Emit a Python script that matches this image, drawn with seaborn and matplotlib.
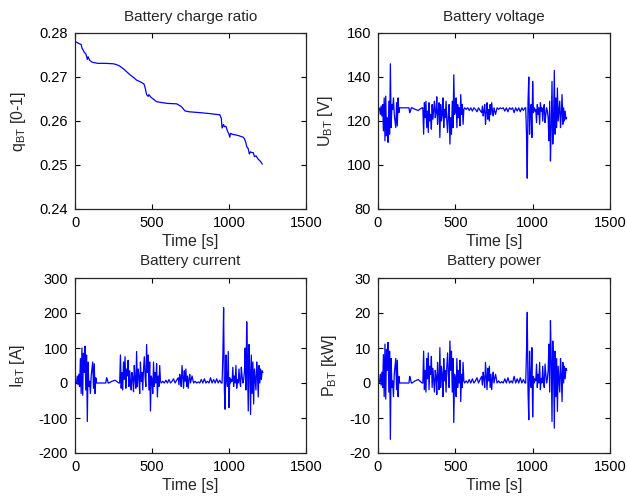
import matplotlib
matplotlib.use("Agg")
import matplotlib.pyplot as plt
import seaborn as sns
import pandas as pd

# ---------------- data ----------------
# Battery charge ratio
t_q = [0, 10, 25, 40, 45, 55, 60, 70, 80, 85, 95, 110, 119, 150, 200, 250, 270, 290, 320, 357,
       380, 400, 430, 448, 455, 465, 475, 480, 490, 500, 530, 560, 600, 660, 690, 714, 740, 811,
       870, 941, 950, 955, 965, 970, 980, 990, 1000, 1005, 1010, 1020, 1060, 1093, 1100, 1110,
       1115, 1125, 1132, 1140, 1150, 1158, 1165, 1175, 1190, 1205, 1216]
q_bt = [0.2781, 0.2779, 0.2776, 0.2774, 0.2766, 0.2760, 0.2756, 0.2753, 0.2740, 0.2746, 0.2738,
        0.2734, 0.2733, 0.2731, 0.2731, 0.2730, 0.2728, 0.2725, 0.2717, 0.2705, 0.2699, 0.2693,
        0.2688, 0.2684, 0.2676, 0.2660, 0.2656, 0.2660, 0.2655, 0.2652, 0.2644, 0.2642, 0.2640,
        0.2639, 0.2633, 0.2623, 0.2621, 0.2619, 0.2617, 0.2614, 0.2606, 0.2584, 0.2592, 0.2587,
        0.2588, 0.2577, 0.2570, 0.2563, 0.2572, 0.2570, 0.2567, 0.2563, 0.2560, 0.2550, 0.2542,
        0.2537, 0.2525, 0.2530, 0.2528, 0.2528, 0.2519, 0.2521, 0.2513, 0.2508, 0.2502]

# Sample times for voltage / current / power
time_s = ([*range(0, 145, 5)]
          + [150, 180, 200, 205, 210, 215, 220, 240, 260, 275, 285]
          + [*range(290, 565, 5)]
          + [*range(570, 670, 10)] + [*range(670, 755, 5)] + [*range(760, 960, 10)]
          + [*range(955, 1225, 5)])

current_A = [
    # 0-140
    0, 0, 2, 20, -5, 25, -10, 70, -30, 100, -35, 85, 30, 105, -20, 80, -110, 60, -10, 5,
    -30, 20, 40, 60, -15, 55, -30, 15, 0,
    # 150-285
    0, 0, 0, 15, 10, 0, 0, 5, 8, 3, 0,
    # 290-560
    0, 80, -15, 30, -20, 60, 10, 75, -15, 40, 20, 65, -10, 35, 5, -20, 30, 15, -25, 50,
    10, -15, 90, -10, 40, 20, -30, 60, 5, 30, -20, 40, 75, 20, -10, 110, 30, 80, -20, 60,
    -80, 20, 10, -30, 60, -10, 30, 0, 55, -40, 20, -10, 50, 5, 0,
    # 570-950
    5, 0, 8, 0, 10, 0, 5, 12, 0, 8,
    15, -5, 25, 10, -10, 50, 15, -15, 35, 5, 40, -10, 20, -15, 10, 25, 0,
    20, 0, 5, 0, 3, 0, 10, 0, 12, 0, 5, 0, 15, 0, 10, 0, 12, 0, 8, 0,
    # 955-1220
    0, 75, 215, -20, -75, 80, 10, -10, 90, -70, 15, 0, 10, 5, 45, -10, 20, 0, 50, -15,
    10, 0, 40, 5, -10, 45, 20, 0, 10,
    30, 100, -20, 175, 60, -80, 110, 40, -90, 80, -30, 60, -60, 40, 10, -20, 60, 20, -40, 50,
    0, 40, 10, 35, 30]

voltage_V = [
    126, 126, 125.7, 123, 126.8, 122.3, 127.5, 115.5, 130.5, 111, 131.3, 113.3, 121.5, 110.3,
    129, 114, 146, 117, 127.5, 125.3, 130.5, 123, 120, 117, 128.3, 117.8, 130.5, 123.8, 126,
    126, 126, 126, 123.8, 124.5, 126, 126, 125.3, 124.8, 125.6, 126,
    126, 114, 128.3, 121.5, 129, 117, 124.5, 114.8, 128.3, 120, 123, 116.3, 127.5, 120.8, 125.3,
    129, 121.5, 123.8, 131, 118.5, 124.5, 128.3, 112.5, 127.5, 120, 123, 130.5, 117, 125.3,
    121.5, 129, 120, 114.8, 123, 127.5, 109.5, 121.5, 114, 129, 117, 141, 123, 124.5, 130.5,
    117, 127.5, 121.5, 126, 117.8, 132, 123, 127.5, 118.5, 125.3, 126,
    125.3, 126, 124.8, 126, 124.5, 126, 125.3, 124.2, 126, 124.8,
    123.8, 126.8, 122.3, 124.5, 127.5, 118.5, 123.8, 128.3, 120.8, 125.3, 120, 127.5, 123,
    128.3, 124.5, 122.3, 126,
    123, 126, 125.3, 126, 125.6, 126, 124.5, 126, 124.2, 126, 125.3, 126, 123.8, 126, 124.5,
    126, 124.2, 126, 124.8, 126,
    126, 114.8, 94, 129, 140, 114, 124.5, 127.5, 112.5, 138, 123.8, 126, 124.5, 125.3, 119.3,
    127.5, 123, 126, 118.5, 128.3, 124.5, 126, 120, 125.3, 127.5, 119.3, 123, 126, 124.5,
    121.5, 111, 129, 101.8, 117, 138, 109.5, 120, 143, 114, 130.5, 117, 135, 120, 124.5,
    129, 117, 123, 132, 118.5, 126, 120, 124.5, 120.8, 121.5]

power_kW = [
    0, 0, 0.3, 2.5, -0.6, 3.1, -1.3, 8.1, -3.9, 11.1, -4.6, 9.6, 3.6, 11.6, -2.6, 9.1, -16.1,
    7.0, -1.3, 0.6, -3.9, 2.5, 4.8, 7.0, -1.9, 6.5, -3.9, 1.9, 0,
    0, 0, 0, 1.9, 1.2, 0, 0, 0.6, 1.0, 0.4, 0,
    0, 9.1, -1.9, 3.6, -2.6, 7.0, 1.2, 8.6, -1.9, 4.8, 2.5, 7.6, -1.3, 4.2, 0.6, -2.6, 3.6,
    1.9, -3.3, 5.9, 1.2, -1.9, 10.1, -1.3, 4.8, 2.5, -3.9, 7.0, 0.6, 3.6, -2.6, 4.8, 8.6, 2.5,
    -1.3, 12.0, 3.6, 9.1, -2.6, 7.0, -11.3, 2.5, 1.2, -3.9, 7.0, -1.3, 3.6, 0, 6.5, -5.3, 2.5,
    -1.3, 5.9, 0.6, 0,
    0.6, 0, 1.0, 0, 1.2, 0, 0.6, 1.5, 0, 1.0,
    1.9, -0.6, 3.1, 1.2, -1.3, 5.9, 1.9, -1.9, 4.2, 0.6, 4.8, -1.3, 2.5, -1.9, 1.2, 3.1, 0,
    2.5, 0, 0.6, 0, 0.4, 0, 1.2, 0, 1.5, 0, 0.6, 0, 1.9, 0, 1.2, 0, 1.5, 0, 1.0, 0,
    0, 8.6, 20.2, -2.6, -10.5, 9.1, 1.2, -1.3, 10.1, -9.7, 1.9, 0, 1.2, 0.6, 5.4, -1.3, 2.5,
    0, 5.9, -1.9, 1.2, 0, 4.8, 0.6, -1.3, 5.4, 2.5, 0, 1.2,
    3.6, 11.1, -2.6, 17.8, 7.0, -11.0, 12.0, 4.8, -12.9, 9.1, -3.9, 7.0, -8.1, 4.8, 1.2,
    -2.6, 7.0, 2.5, -5.3, 5.9, 0, 4.8, 1.2, 4.2, 3.6]

titles = ["Battery charge ratio", "Battery voltage", "Battery current", "Battery power"]
ylabels = [r"q$_{\mathrm{BT}}$ [0-1]", r"U$_{\mathrm{BT}}$ [V]",
           r"I$_{\mathrm{BT}}$ [A]", r"P$_{\mathrm{BT}}$ [kW]"]
xlabel = "Time [s]"
xticks = [0, 500, 1000, 1500]
yticks = [[0.24, 0.25, 0.26, 0.27, 0.28], [80, 100, 120, 140, 160],
          [-200, -100, 0, 100, 200, 300], [-20, -10, 0, 10, 20, 30]]
yticklabels = [["0.24", "0.25", "0.26", "0.27", "0.28"], ["80", "100", "120", "140", "160"],
               ["-200", "-100", "0", "100", "200", "300"], ["-20", "-10", "0", "10", "20", "30"]]

# ---------------- styling ----------------
sns.set_style("ticks")
plt.rcParams["font.family"] = ["Liberation Sans", "DejaVu Sans"]
plt.rcParams["mathtext.fontset"] = "custom"
plt.rcParams["mathtext.rm"] = "Liberation Sans"
plt.rcParams["mathtext.it"] = "Liberation Sans:italic"
plt.rcParams["mathtext.bf"] = "Liberation Sans:bold"
plt.rcParams["font.size"] = 10

fig = plt.figure(figsize=(6.27, 4.99), dpi=100)
positions = [
    [75 / 627, 1 - 209 / 499, 231 / 627, 176 / 499],
    [378 / 627, 1 - 209 / 499, 232 / 627, 176 / 499],
    [75 / 627, 1 - 453 / 499, 231 / 627, 175 / 499],
    [378 / 627, 1 - 453 / 499, 232 / 627, 175 / 499],
]

df_q = pd.DataFrame({"t": t_q, "v": q_bt})
df_u = pd.DataFrame({"t": time_s, "v": voltage_V})
df_i = pd.DataFrame({"t": time_s, "v": current_A})
df_p = pd.DataFrame({"t": time_s, "v": power_kW})
frames = [df_q, df_u, df_i, df_p]

for k in range(4):
    ax = fig.add_axes(positions[k])
    sns.lineplot(data=frames[k], x="t", y="v", ax=ax, color="#0000ff", linewidth=0.9,
                 estimator=None, sort=False)
    ax.set_xlim(0, 1500)
    ax.set_ylim(yticks[k][0], yticks[k][-1])
    ax.set_xticks(xticks)
    ax.set_xticklabels([str(v) for v in xticks])
    ax.set_yticks(yticks[k])
    ax.set_yticklabels(yticklabels[k])
    ax.set_title(titles[k], fontsize=11, pad=9)
    ax.set_xlabel(xlabel, fontsize=11.5, labelpad=3)
    ax.set_ylabel(ylabels[k], fontsize=11.5, labelpad=8)
    ax.tick_params(direction="in", top=True, right=True, length=3.5, width=0.8,
                   labelsize=10.5, pad=5, colors="black")
    for s in ax.spines.values():
        s.set_visible(True)
        s.set_linewidth(0.9)
        s.set_color("#262626")

fig.savefig("out.png", dpi=100, facecolor="white")
